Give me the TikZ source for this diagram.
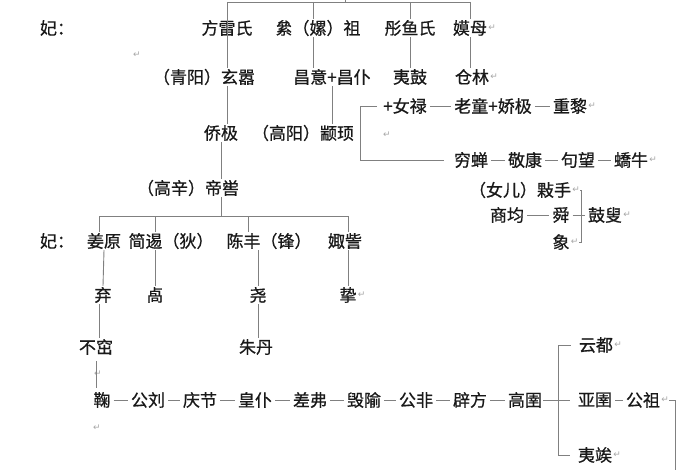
\documentclass[tikz,border=0pt]{standalone}
\usepackage{fontspec}
\setmainfont{Noto Sans CJK SC}
\newfontfamily\cjkfont[FakeBold=0.7]{Noto Sans CJK SC}
\newfontfamily\symfont{DejaVu Sans}

\begin{document}
\begin{tikzpicture}[x=1pt,y=-1pt,
    person/.style={inner sep=1pt,font=\cjkfont\fontsize{17}{17}\selectfont,text=black!90},
    ret/.style={inner sep=0pt,anchor=west,text=black!35,font=\symfont\fontsize{9}{9}\selectfont},
    famline/.style={draw=black!50,line width=0.9pt},
    link/.style={famline,shorten <=2pt,shorten >=2pt}]
    %\draw[help lines,step=50] (0,0) grid (700,470);
    \useasboundingbox (0,0) rectangle (700,470);
    \coordinate (hd) at (345,2);
    \coordinate (lz) at (313,0);

    % wives and sons
    \node[person] (fei1) at (57,28) {妃：};
    \node[person] (fangl) at (227,28) {方雷氏};
    \node[person] (leizu) at (318,28) {絫（嫘）祖};
    \node[person] (tongy) at (410,28) {彤鱼氏};
    \node[person] (momu) at (470,28) {嫫母};
    \node[ret] at (momu.east) {↵};
    \node[ret] at (133,55) {↵};

    \node[person] (xuanx) at (204,77) {（青阳）玄嚣};
    \node[person] (changyi) at (332,77) {昌意+昌仆};
    \node[person] (yigu) at (410,77) {夷鼓};
    \node[person] (canglin) at (472,77) {仓林};
    \node[ret] at (canglin.east) {↵};

    \node[person] (nvlu) at (405,106) {+女禄};
    \node[person] (laotong) at (493,106) {老童+娇极};
    \node[person] (chongli) at (570,106) {重黎};
    \node[ret] at (chongli.east) {↵};

    \node[person] (qiaoji) at (221,133) {侨极};
    \node[person] (zhuanxu) at (303,133) {（高阳）颛顼};
    \node[ret] at (383,135) {↵};

    \node[person] (qiongchan) at (471,160) {穷蝉};
    \node[person] (jingkang) at (525,160) {敬康};
    \node[person] (juwang) at (578,160) {句望};
    \node[person] (jiaoniu) at (631,160) {蟜牛};
    \node[ret] at (jiaoniu.east) {↵};

    \node[person] (dk) at (188,188) {（高辛）帝喾};
    \node[person] (keshou) at (520,190) {（女儿）敤手};
    \node[ret] (rk) at (keshou.east) {↵};
    \node[person] (shangjun) at (507,215) {商均};
    \node[person] (shun) at (561,215) {舜};
    \node[person] (gusou) at (605,215) {鼓叟};
    \node[ret] at (gusou.east) {↵};
    \node[person] (xiang) at (561,242) {象};
    \node[ret] (rx) at (xiang.east) {↵};
    \coordinate (gs) at (581,215);

    \node[person] (fei2) at (57,241) {妃：};
    \node[person] (jiangy) at (104,241) {姜原};
    \node[person] (jiandi) at (171,241) {简逷（狄）};
    \node[person] (chenf) at (269,241) {陈丰（锋）};
    \node[person] (juzi) at (345,241) {娵訾};
    \coordinate (b1) at (99,216);
    \coordinate (b2) at (155,216);
    \coordinate (b3) at (248,216);
    \coordinate (b4) at (348,216);

    \node[person] (qi) at (103,295) {弃};
    \node[person] (xie) at (155,295) {卨};
    \node[person] (yao) at (258,295) {尧};
    \node[person] (zhi) at (348,295) {挚};
    \node[ret] at (zhi.east) {↵};
    \node[person] (buzhu) at (96,347) {不窋};
    \node[person] (danzhu) at (256,347) {朱丹};
    \node[ret] at (94,374) {↵};

    % the Zhou line
    \node[person] (ju) at (102,400) {鞠};
    \node[person] (gongliu) at (148,400) {公刘};
    \node[person] (qingjie) at (200,400) {庆节};
    \node[person] (huangpu) at (255,400) {皇仆};
    \node[person] (chafu) at (310,400) {差弗};
    \node[person] (huiyu) at (364,400) {毁隃};
    \node[person] (gongfei) at (416,400) {公非};
    \node[person] (pifang) at (470,400) {辟方};
    \node[person] (gaoyu) at (525,400) {高圉};
    \node[ret] at (93,428) {↵};
    \node[person] (yundu) at (596,345) {云都};
    \node[ret] at (yundu.east) {↵};
    \node[person] (yayu) at (595,400) {亚圉};
    \node[person] (gongzu) at (643,400) {公祖};
    \node[ret] (rz) at (gongzu.east) {↵};
    \node[person] (yisi) at (595,455) {夷竢};
    \node[ret] at (yisi.east) {↵};
    \coordinate (gy) at (558,400);
    \coordinate (tail) at (675,472);

    \draw[famline] (hd) -- ++(0,-3);
    \draw[famline] (fangl |- hd) -- (momu |- hd);
    \draw[famline] (fangl |- hd) -- (fangl |- xuanx.north);
    \draw[famline] (lz |- hd) -- (lz |- leizu.north);
    \draw[famline] (lz |- leizu.south) -- (lz |- changyi.north);
    \draw[famline] (tongy |- hd) -- (tongy.north);
    \draw[famline] (tongy.south) -- (yigu.north);
    \draw[famline] (momu |- hd) -- (momu.north);
    \draw[famline] (momu.south) -- (momu.south |- canglin.north);

    \draw[famline] (fangl |- xuanx.south) -- (fangl |- qiaoji.north);
    \draw[famline] (changyi.south) -- (changyi.south |- zhuanxu.north);
    \draw[famline] ([xshift=-5pt]nvlu.west) -- ++(-17,0) |- ([xshift=-9pt]qiongchan.west);
    \foreach \a/\b in {nvlu/laotong,laotong/chongli,qiongchan/jingkang,jingkang/juwang,juwang/jiaoniu,shangjun/shun}
        \draw[link] (\a.east) -- (\b.west);
    \draw[famline] (rk.east) -| (gs) |- (rx.east);
    \draw[link] (shun.east) -- (gusou.west);

    \draw[famline] (qiaoji.south) -- (qiaoji |- dk.north);
    \draw[famline] (qiaoji |- dk.south) -- (qiaoji |- b1);
    \draw[famline] (b1) -- (b4);
    \draw[famline] (b1) -- (b1 |- jiangy.north);
    \draw[famline] (b2) -- (b2 |- jiandi.north);
    \draw[famline] (b3) -- (b3 |- chenf.north);
    \draw[famline] (b4) -- (b4 |- juzi.north);
    \draw[famline] (jiangy.south) -- (qi.north);
    \draw[famline] (jiandi.south -| xie) -- (xie.north);
    \draw[famline] (chenf.south -| yao) -- (yao.north);
    \draw[famline] (juzi.south -| zhi) -- (zhi.north);
    \draw[famline] (qi.south -| b1) -- (buzhu.north -| b1);
    \draw[famline] (yao.south) -- (yao |- danzhu.north);
    \draw[famline,shorten <=5pt,shorten >=3pt] (buzhu.south) -- (buzhu |- ju.north);

    \foreach \a/\b in {ju/gongliu,gongliu/qingjie,qingjie/huangpu,huangpu/chafu,chafu/huiyu,huiyu/gongfei,gongfei/pifang,pifang/gaoyu,yayu/gongzu}
        \draw[link] (\a.east) -- (\b.west);
    \draw[famline] ([xshift=-7pt]yundu.west) -| (gy) |- ([xshift=-7pt]yisi.west);
    \draw[famline] (gaoyu.east) -- ([xshift=-7pt]yayu.west);
    \draw[famline] (rz.east) -| (tail);
\end{tikzpicture}
\end{document}
